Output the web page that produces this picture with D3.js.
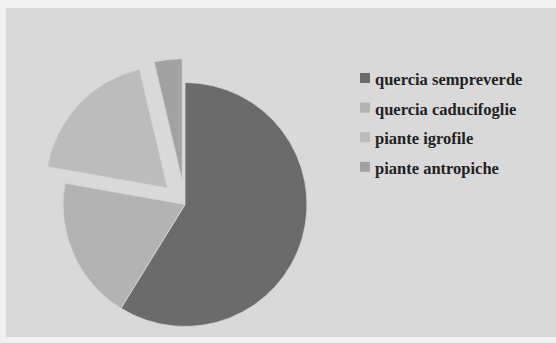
<!DOCTYPE html>
<html>
<head>
<meta charset="utf-8">
<script src="https://cdn.jsdelivr.net/npm/d3@7"></script>
<style>
  html, body { margin: 0; padding: 0; background: #f1f1f1; }
  svg { display: block; }
</style>
</head>
<body>
<svg id="chart" width="556" height="343"></svg>
<script>
// Composizione della vegetazione (percentuali)
const categories = ["quercia sempreverde", "quercia caducifoglie", "piante igrofile", "piante antropiche"];
const values = [58.8, 19.0, 18.5, 3.7];
const colors = ["#6b6b6b", "#b3b3b3", "#bcbcbc", "#a2a2a2"];
const pulledOut = ["piante igrofile", "piante antropiche"];

const svg = d3.select("#chart");
const W = 556, H = 343;

// sheet background
svg.append("rect")
  .attr("x", 6).attr("y", 8)
  .attr("width", W - 6).attr("height", 329)
  .attr("fill", "#d9d9d9");

const data = categories.map((c, i) => ({ name: c, value: values[i] }));

const color = d3.scaleOrdinal().domain(categories).range(colors);

const radius = 122;
const cx = 185, cy = 204.5;
const explode = 24;

const pie = d3.pie().value(d => d.value).sort(null);
const arc = d3.arc().innerRadius(0).outerRadius(radius);

const g = svg.append("g").attr("transform", `translate(${cx},${cy})`);

g.selectAll("path.slice")
  .data(pie(data))
  .join("path")
  .attr("class", "slice")
  .attr("d", arc)
  .attr("fill", d => color(d.data.name))
  .attr("stroke", "#d6d6d6")
  .attr("stroke-width", 0.8)
  .attr("transform", d => {
    if (!pulledOut.includes(d.data.name)) return null;
    const mid = (d.startAngle + d.endAngle) / 2;
    return `translate(${explode * Math.sin(mid)},${-explode * Math.cos(mid)})`;
  });

// legend
const legend = svg.append("g").attr("transform", "translate(360,73)");
const rowH = 29.6;

const rows = legend.selectAll("g.row")
  .data(categories)
  .join("g")
  .attr("class", "row")
  .attr("transform", (d, i) => `translate(0,${i * rowH})`);

rows.append("rect")
  .attr("width", 10).attr("height", 10)
  .attr("fill", d => color(d));

rows.append("text")
  .attr("x", 15)
  .attr("y", 12)
  .attr("font-family", "'Liberation Serif', 'Times New Roman', serif")
  .attr("font-size", "16.5px")
  .attr("font-weight", "bold")
  .attr("fill", "#222")
  .text(d => d);
</script>
</body>
</html>
